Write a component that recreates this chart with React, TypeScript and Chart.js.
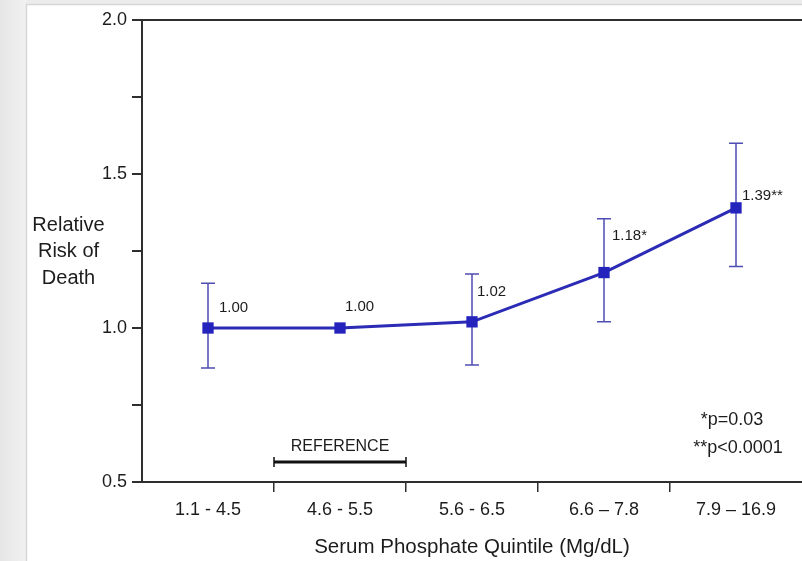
import React, { useEffect, useRef } from "react";
import { Chart, registerables } from "chart.js";

Chart.register(...registerables);

// ---- data ----
const categories = ["1.1 - 4.5", "4.6 - 5.5", "5.6 - 6.5", "6.6 \u2013 7.8", "7.9 \u2013 16.9"];
const relativeRisk = [1.0, 1.0, 1.02, 1.18, 1.39];
const lowerCI: (number | null)[] = [0.87, null, 0.88, 1.02, 1.2];
const upperCI: (number | null)[] = [1.145, null, 1.175, 1.355, 1.6];
const significance = ["", "", "", "*", "**"];
const labeledYTicks = [0.5, 1.0, 1.5, 2.0];
const yAxisTitle = ["Relative", "Risk of", "Death"];
const xAxisTitle = "Serum Phosphate Quintile (Mg/dL)";
const referenceIndex = 1;
const referenceText = "REFERENCE";
const footnotes = ["*p=0.03", "**p<0.0001"];

// ---- styles ----
const FONT = "'Liberation Sans', Arial, sans-serif";
const TEXT = "#1c1c1c";
const AXIS = "#2e2e2e";
const LINE_BLUE = "#2b2bb5";
const MARK_BLUE = "#2424bd";
const ERR_BLUE = "#4d4db3";
const CANVAS_W = 810; // the chart keeps an 8px overflow margin on the right; the window clips it at 802
const CANVAS_H = 561;
const labelOffsets = [
  { dx: 11, dy: -20 },
  { dx: 5, dy: -21 },
  { dx: 5, dy: -30 },
  { dx: 8, dy: -37 },
  { dx: 6, dy: -12 },
];

const decorPlugin = {
  id: "decor",
  beforeDraw(chart: any) {
    const ctx = chart.ctx;
    ctx.save();
    ctx.fillStyle = "#ececec";
    ctx.fillRect(0, 0, chart.width, chart.height);
    const g = ctx.createLinearGradient(0, 0, 26, 0);
    g.addColorStop(0, "#e6e6e6");
    g.addColorStop(1, "#f1f1f1");
    ctx.fillStyle = g;
    ctx.fillRect(0, 0, 26, chart.height);
    ctx.fillStyle = "#ffffff";
    ctx.fillRect(27, 5, chart.width - 27, chart.height - 5);
    ctx.strokeStyle = "#d6d6d6";
    ctx.lineWidth = 1.5;
    ctx.beginPath();
    ctx.moveTo(26.5, chart.height);
    ctx.lineTo(26.5, 4.5);
    ctx.lineTo(chart.width, 4.5);
    ctx.stroke();
    ctx.restore();
  },
  beforeDatasetsDraw(chart: any) {
    const ctx = chart.ctx;
    const xs = chart.scales.x;
    const ys = chart.scales.y;
    ctx.save();
    ctx.strokeStyle = ERR_BLUE;
    ctx.lineWidth = 1.5;
    for (let i = 0; i < categories.length; i++) {
      const lo = lowerCI[i];
      const hi = upperCI[i];
      if (lo == null || hi == null) continue;
      const x = xs.getPixelForValue(i);
      const yl = ys.getPixelForValue(lo);
      const yh = ys.getPixelForValue(hi);
      ctx.beginPath();
      ctx.moveTo(x, yl);
      ctx.lineTo(x, yh);
      ctx.moveTo(x - 7, yl);
      ctx.lineTo(x + 7, yl);
      ctx.moveTo(x - 7, yh);
      ctx.lineTo(x + 7, yh);
      ctx.stroke();
    }
    ctx.restore();
  },
  afterDraw(chart: any) {
    const ctx = chart.ctx;
    const xs = chart.scales.x;
    const ys = chart.scales.y;
    const area = chart.chartArea;
    ctx.save();
    ctx.fillStyle = TEXT;
    // data labels
    ctx.font = `15px ${FONT}`;
    ctx.textAlign = "left";
    ctx.textBaseline = "middle";
    for (let i = 0; i < relativeRisk.length; i++) {
      const x = xs.getPixelForValue(i);
      const y = ys.getPixelForValue(relativeRisk[i]);
      const o = labelOffsets[i];
      ctx.fillText(relativeRisk[i].toFixed(2) + significance[i], x + o.dx, y + o.dy);
    }
    // y axis title
    ctx.font = `20px ${FONT}`;
    ctx.textAlign = "center";
    yAxisTitle.forEach((t, k) => ctx.fillText(t, 68.5, 225 + k * 26.5));
    // x axis title
    ctx.font = `20.5px ${FONT}`;
    ctx.fillText(xAxisTitle, (area.left + area.right) / 2, 547);
    // reference bracket
    const step = xs.getPixelForValue(1) - xs.getPixelForValue(0);
    const cx = xs.getPixelForValue(referenceIndex);
    const x0 = cx - step / 2;
    const x1 = cx + step / 2;
    const by = area.bottom - 20;
    ctx.font = `16px ${FONT}`;
    ctx.fillText(referenceText, cx, area.bottom - 35);
    ctx.strokeStyle = "#111";
    ctx.lineWidth = 3;
    ctx.beginPath();
    ctx.moveTo(x0, by);
    ctx.lineTo(x1, by);
    ctx.stroke();
    ctx.lineWidth = 1.5;
    ctx.beginPath();
    ctx.moveTo(x0, by - 5);
    ctx.lineTo(x0, by + 5);
    ctx.moveTo(x1, by - 5);
    ctx.lineTo(x1, by + 5);
    ctx.stroke();
    // footnotes
    const lx = xs.getPixelForValue(categories.length - 1);
    ctx.font = `18px ${FONT}`;
    ctx.fillText(footnotes[0], lx - 4, area.bottom - 62);
    ctx.fillText(footnotes[1], lx + 2, area.bottom - 34);
    ctx.restore();
  },
};

export default function App() {
  const ref = useRef<HTMLCanvasElement | null>(null);
  useEffect(() => {
    if (!ref.current) return;
    const chart = new Chart(ref.current, {
      type: "line",
      data: {
        labels: categories,
        datasets: [
          {
            data: relativeRisk,
            borderColor: LINE_BLUE,
            borderWidth: 3,
            pointStyle: "rect",
            pointRadius: 8,
            pointBorderWidth: 0,
            pointBackgroundColor: MARK_BLUE,
            tension: 0,
          },
        ],
      },
      options: {
        responsive: false,
        animation: false,
        events: [],
        layout: { padding: { top: 20, left: 0, right: 0, bottom: 0 } },
        plugins: { legend: { display: false }, tooltip: { enabled: false } },
        scales: {
          x: {
            offset: true,
            grid: {
              offset: true,
              drawOnChartArea: false,
              tickLength: 10,
              lineWidth: 1.5,
              tickColor: (c: any) =>
                c.type !== "tick" || c.index === 0 ? "rgba(0,0,0,0)" : AXIS,
            },
            border: { color: AXIS, width: 2 },
            ticks: { font: { family: FONT, size: 18 }, color: TEXT, padding: 7, maxRotation: 0, autoSkip: false },
            afterFit: (s: any) => {
              s.height = 79;
              s.paddingLeft = 0;
              s.paddingRight = 0;
            },
          },
          y: {
            min: 0.5,
            max: 2.0,
            grid: {
              drawOnChartArea: true,
              tickLength: 10,
              lineWidth: 2,
              color: (c: any) => (c.tick && c.tick.value === 2 ? AXIS : "rgba(0,0,0,0)"),
              tickColor: AXIS,
            },
            border: { color: AXIS, width: 2 },
            ticks: {
              stepSize: 0.25,
              autoSkip: false,
              font: { family: FONT, size: 18 },
              color: TEXT,
              padding: 5,
              callback: (v: any) => (labeledYTicks.includes(Number(v)) ? Number(v).toFixed(1) : ""),
            },
            afterFit: (s: any) => {
              s.width = 142;
            },
          },
        },
      },
      plugins: [decorPlugin],
    });
    return () => chart.destroy();
  }, []);
  return (
    <div style={{ position: "fixed", left: 0, top: 0, width: 802, height: 561, overflow: "hidden" }}>
      <canvas
        ref={ref}
        width={CANVAS_W}
        height={CANVAS_H}
        style={{ display: "block", width: CANVAS_W, height: CANVAS_H }}
      />
    </div>
  );
}
